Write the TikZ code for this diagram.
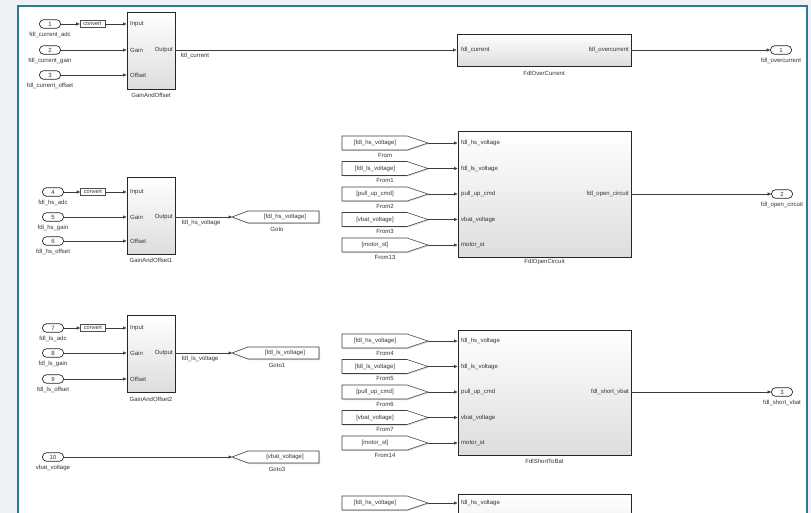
\documentclass[tikz,border=0pt]{standalone}
\usepackage{fontspec}
\setmainfont{Liberation Sans}
\usetikzlibrary{arrows.meta,shadows,calc}
\definecolor{bgout}{HTML}{EEF2F3}
\definecolor{framec}{HTML}{2A7C96}
\definecolor{ln}{HTML}{3C3C3C}
\definecolor{txt}{HTML}{333333}
\definecolor{blkbot}{HTML}{DDDDDD}
\tikzset{
  lbl/.style={font=\fontsize{6}{7}\selectfont, text=txt, inner sep=0pt},
  blk/.style={draw=black!85, line width=0.9pt, top color=white, bottom color=blkbot,
    drop shadow={shadow xshift=1.2pt, shadow yshift=-1.2pt, opacity=0.35}, inner sep=0pt},
  portpill/.style={draw=black!85, line width=0.7pt, fill=white, rounded corners=4pt,
    minimum width=21pt, minimum height=8.5pt, inner sep=0pt, font=\fontsize{6}{7}\selectfont, text=txt},
  cvt/.style={draw=black!70, line width=0.6pt, fill=white, minimum width=25pt, minimum height=7pt,
    inner sep=0pt, font=\fontsize{5.5}{6}\selectfont, text=txt,
    drop shadow={shadow xshift=0.8pt, shadow yshift=-0.8pt, opacity=0.35}},
  gblk/.style={draw=black!75, line width=0.6pt, fill=white,
    drop shadow={shadow xshift=1pt, shadow yshift=-1pt, opacity=0.3}},
  wire/.style={draw=ln, line width=0.6pt, -{Triangle[length=3.5pt,width=3pt]}},
}
\newcommand{\InPort}[5]{%
  \node[portpill] (#1) at (#2,#3) {#4};
  \node[lbl] (#1lab) at (#2,#3+10.5) {#5};
}
\newcommand{\FromBlk}[4]{%
  \path[gblk] (342,#2-7) -- (407,#2-7) -- (428,#2) -- (407,#2+7) -- (342,#2+7) -- cycle;
  \node[lbl] (#1) at (375,#2) {#3};
  \coordinate (#1tip) at (428,#2);
  \node[lbl] (#1lab) at (385,#2+12) {#4};
}
\newcommand{\GotoBlk}[4]{%
  \path[gblk] (232,#2) -- (248,#2-6) -- (319,#2-6) -- (319,#2+6) -- (248,#2+6) -- cycle;
  \coordinate (#1tip) at (232,#2);
  \node[lbl] (#1) at (285,#2) {#3};
  \node[lbl] (#1lab) at (277,#2+12.5) {#4};
}
\begin{document}
\begin{tikzpicture}[x=1pt,y=-1pt]
\useasboundingbox (0,0) rectangle (811,513);
\clip (0,0) rectangle (811,513);
\fill[bgout] (0,0) rectangle (811,513);
\fill[white] (18,6) rectangle (807,520);
\draw[framec, line width=1.8pt] (18,520) -- (18,6) -- (807,6) -- (807,520);

% ---------------- Row 1 ----------------
\InPort{in1}{50}{24}{1}{fdl\_current\_adc}
\InPort{in2}{50}{50}{2}{fdl\_current\_gain}
\InPort{in3}{50}{75}{3}{fdl\_current\_offset}
\node[cvt] (cv1) at (92.5,24) {convert};
\node[blk, minimum width=48pt, minimum height=77pt] (g1) at (151,50.5) {};
\node[lbl] (g1lab) at (151,95) {GainAndOffset};
\node[lbl, anchor=west] (g1i) at (130,24) {Input};
\node[lbl, anchor=west] (g1g) at (130,50) {Gain};
\node[lbl, anchor=west] (g1o) at (130,75) {Offset};
\node[lbl, anchor=east] (g1out) at (173,50) {Output};
\draw[wire] (in1) -- (cv1);
\draw[wire] (cv1) -- (cv1 -| g1.west);
\draw[wire] (in2) -- (in2 -| g1.west);
\draw[wire] (in3) -- (in3 -| g1.west);

\node[blk, minimum width=174pt, minimum height=32pt] (oc1) at (544,50) {};
\node[lbl] (oc1lab) at (544,73) {FdlOverCurrent};
\node[lbl, anchor=west] (oc1i) at (461,50) {fdl\_current};
\node[lbl, anchor=east] (oc1o) at (629,50) {fdl\_overcurrent};
\draw[wire] (g1.east |- in2) -- (oc1.west |- in2) node[pos=0, lbl, anchor=north west, xshift=5pt, yshift=-2.5pt] {fdl\_current};
\node[portpill] (out1) at (781,50) {1};
\node[lbl] (out1lab) at (781,60.5) {fdl\_overcurrent};
\draw[wire] (oc1) -- (out1);

% ---------------- Row 2 ----------------
\InPort{in4}{53}{192}{4}{fdl\_hs\_adc}
\InPort{in5}{53}{217}{5}{fdl\_hs\_gain}
\InPort{in6}{53}{241}{6}{fdl\_hs\_offset}
\node[cvt] (cv4) at (93,192) {convert};
\node[blk, minimum width=48pt, minimum height=77pt] (g2) at (151,215.5) {};
\node[lbl] (g2lab) at (151,260) {GainAndOffset1};
\node[lbl, anchor=west] (g2i) at (130,192) {Input};
\node[lbl, anchor=west] (g2g) at (130,217) {Gain};
\node[lbl, anchor=west] (g2o) at (130,241) {Offset};
\node[lbl, anchor=east] (g2out) at (173,217) {Output};
\draw[wire] (in4) -- (cv4);
\draw[wire] (cv4) -- (cv4 -| g2.west);
\draw[wire] (in5) -- (in5 -| g2.west);
\draw[wire] (in6) -- (in6 -| g2.west);
\GotoBlk{gt0}{217}{[fdl\_hs\_voltage]}{Goto}
\draw[wire] (g2.east |- in5) -- (gt0tip) node[pos=0, lbl, anchor=north west, xshift=6pt, yshift=-2.5pt] {fdl\_hs\_voltage};

\FromBlk{fr0}{143}{[fdl\_hs\_voltage]}{From}
\FromBlk{fr1}{168.5}{[fdl\_ls\_voltage]}{From1}
\FromBlk{fr2}{194}{[pull\_up\_cmd]}{From2}
\FromBlk{fr3}{219.5}{[vbat\_voltage]}{From3}
\FromBlk{fr13}{245}{[motor\_st]}{From13}
\node[blk, minimum width=173pt, minimum height=126pt] (oc2) at (544.5,194) {};
\node[lbl] (oc2lab) at (544.5,262) {FdlOpenCircuit};
\node[lbl, anchor=west] (oc2a) at (461,143) {fdl\_hs\_voltage};
\node[lbl, anchor=west] (oc2b) at (461,168.5) {fdl\_ls\_voltage};
\node[lbl, anchor=west] (oc2c) at (461,194) {pull\_up\_cmd};
\node[lbl, anchor=west] (oc2d) at (461,219.5) {vbat\_voltage};
\node[lbl, anchor=west] (oc2e) at (461,245) {motor\_st};
\node[lbl, anchor=east] (oc2o) at (629,194) {fdl\_open\_circuit};
\foreach \f in {fr0,fr1,fr2,fr3,fr13}{\draw[wire] (\f tip) -- (\f tip -| oc2.west);}
\node[portpill] (out2) at (782,194) {2};
\node[lbl] (out2lab) at (782,204.5) {fdl\_open\_circuit};
\draw[wire] (oc2) -- (out2);

% ---------------- Row 3 ----------------
\InPort{in7}{53}{328}{7}{fdl\_ls\_adc}
\InPort{in8}{53}{353}{8}{fdl\_ls\_gain}
\InPort{in9}{53}{379}{9}{fdl\_ls\_offset}
\node[cvt] (cv7) at (93,328) {convert};
\node[blk, minimum width=48pt, minimum height=77pt] (g3) at (151,353.5) {};
\node[lbl] (g3lab) at (151,399) {GainAndOffset2};
\node[lbl, anchor=west] (g3i) at (130,328) {Input};
\node[lbl, anchor=west] (g3g) at (130,353) {Gain};
\node[lbl, anchor=west] (g3o) at (130,379) {Offset};
\node[lbl, anchor=east] (g3out) at (173,353) {Output};
\draw[wire] (in7) -- (cv7);
\draw[wire] (cv7) -- (cv7 -| g3.west);
\draw[wire] (in8) -- (in8 -| g3.west);
\draw[wire] (in9) -- (in9 -| g3.west);
\GotoBlk{gt1}{353}{[fdl\_ls\_voltage]}{Goto1}
\draw[wire] (g3.east |- in8) -- (gt1tip) node[pos=0, lbl, anchor=north west, xshift=6pt, yshift=-2.5pt] {fdl\_ls\_voltage};

\InPort{in10}{53}{457}{10}{vbat\_voltage}
\GotoBlk{gt3}{457}{[vbat\_voltage]}{Goto3}
\draw[wire] (in10) -- (gt3tip);

\FromBlk{fr4}{341}{[fdl\_hs\_voltage]}{From4}
\FromBlk{fr5}{366.5}{[fdl\_ls\_voltage]}{From5}
\FromBlk{fr6}{392}{[pull\_up\_cmd]}{From6}
\FromBlk{fr7}{417.5}{[vbat\_voltage]}{From7}
\FromBlk{fr14}{443}{[motor\_st]}{From14}
\node[blk, minimum width=173pt, minimum height=125pt] (oc3) at (544.5,392.5) {};
\node[lbl] (oc3lab) at (544.5,461) {FdlShortToBat};
\node[lbl, anchor=west] (oc3a) at (461,341) {fdl\_hs\_voltage};
\node[lbl, anchor=west] (oc3b) at (461,366.5) {fdl\_ls\_voltage};
\node[lbl, anchor=west] (oc3c) at (461,392) {pull\_up\_cmd};
\node[lbl, anchor=west] (oc3d) at (461,417.5) {vbat\_voltage};
\node[lbl, anchor=west] (oc3e) at (461,443) {motor\_st};
\node[lbl, anchor=east] (oc3o) at (629,392) {fdl\_short\_vbat};
\foreach \f in {fr4,fr5,fr6,fr7,fr14}{\draw[wire] (\f tip) -- (\f tip -| oc3.west);}
\node[portpill] (out3) at (782,392) {3};
\node[lbl] (out3lab) at (782,402.5) {fdl\_short\_vbat};
\draw[wire] (oc3.east |- out3) -- (out3);

% ---------------- Row 4 (cut off) ----------------
\path[gblk] (342,496) -- (407,496) -- (428,503) -- (407,510) -- (342,510) -- cycle;
\node[lbl] (fr15) at (375,503) {[fdl\_hs\_voltage]};
\coordinate (fr15tip) at (428,503);
\node[blk, minimum width=173pt, minimum height=80pt] (oc4) at (544.5,534) {};
\node[lbl, anchor=west] (oc4a) at (461,503) {fdl\_hs\_voltage};
\draw[wire] (fr15tip) -- (fr15tip -| oc4.west);
\end{tikzpicture}
\end{document}
